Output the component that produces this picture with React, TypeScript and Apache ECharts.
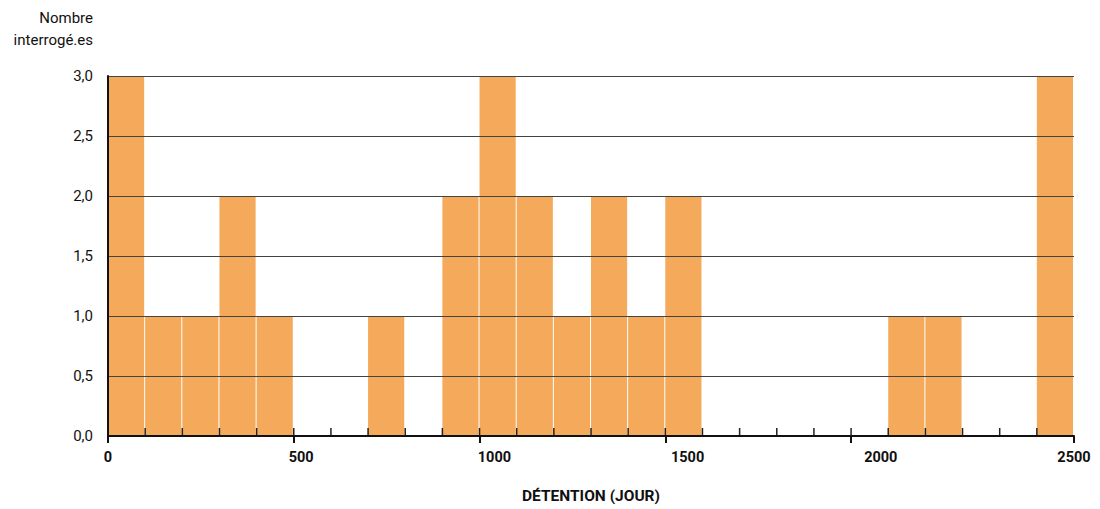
import React, { useEffect, useRef } from "react";
import * as echarts from "echarts";

const xMin = 0;
const xMax = 2600;
const binWidth = 100;
const counts = [3, 1, 1, 2, 1, 0, 0, 1, 0, 2, 3, 2, 1, 2, 1, 2, 0, 0, 0, 0, 0, 1, 1, 0, 0, 3];
const majorTicks = [0, 500, 1000, 1500, 2000, 2600];
const xLabelMax = 2500;
const xLabels = [0, 500, 1000, 1500, 2000, 2500];
const yTicks = [0.5, 1, 1.5, 2, 2.5, 3];
const yName = "Nombre\ninterrogé.es";
const xName = "DÉTENTION (JOUR)";

const BAR = "#F4A95B";
const FONT = "Roboto, 'Noto Sans', sans-serif";

export default function App() {
  const ref = useRef<HTMLDivElement>(null);
  useEffect(() => {
    if (!ref.current) return;
    const chart = echarts.init(ref.current, undefined, { renderer: "svg" });
    const bins = counts.map((c, i) => [xMin + i * binWidth, xMin + (i + 1) * binWidth, c]);
    const edges: number[][] = [];
    for (let i = 1; i < counts.length; i++) edges.push([xMin + i * binWidth, 0]);

    chart.setOption({
      animation: false,
      grid: { left: 108, right: 26, top: 76, bottom: 72 },
      xAxis: [
        {
          type: "value",
          min: xMin,
          max: xMax,
          interval: 500,
          z: 10,
          axisLine: { show: true, lineStyle: { color: "#111", width: 2 } },
          axisTick: { show: true, length: 7, customValues: majorTicks, lineStyle: { color: "#111", width: 2 } },
          axisLabel: { show: false },
          splitLine: { show: false },
        },
        {
          type: "value",
          position: "bottom",
          min: 0,
          max: xLabelMax,
          z: 10,
          name: xName,
          nameLocation: "middle",
          nameGap: 52,
          nameTextStyle: { fontFamily: FONT, fontSize: 15.5, fontWeight: "bold", color: "#111" },
          axisLine: { show: false },
          axisTick: { show: false },
          axisLabel: {
            customValues: xLabels,
            fontFamily: FONT,
            fontSize: 14.5,
            fontWeight: "bold",
            color: "#111",
            margin: 14,
            formatter: (v: number) => String(v),
          },
          splitLine: { show: false },
        },
      ],
      yAxis: {
        type: "value",
        min: 0,
        max: 3,
        interval: 0.5,
        z: 10,
        axisLine: { show: true, lineStyle: { color: "#111", width: 2 } },
        axisTick: { show: false },
        axisLabel: {
          fontFamily: FONT,
          fontSize: 15,
          color: "#111",
          margin: 15,
          formatter: (v: number) => v.toFixed(1).replace(".", ","),
        },
        splitLine: { show: false },
      },
      graphic: [
        {
          type: "text",
          x: 93,
          y: 7,
          style: {
            text: yName,
            fontFamily: FONT,
            fontSize: 15,
            fill: "#111",
            align: "right",
            lineHeight: 22,
          },
        },
      ],
      series: [
        {
          type: "custom",
          z: 2,
          xAxisIndex: 0,
          data: bins,
          encode: { x: [0, 1], y: 2 },
          renderItem: (params: any, api: any) => {
            const c = api.value(2);
            if (!c) return null;
            const p0 = api.coord([api.value(0), c]);
            const p1 = api.coord([api.value(1), 0]);
            return {
              type: "rect",
              shape: { x: p0[0], y: p0[1], width: p1[0] - p0[0] - 1, height: p1[1] - p0[1] },
              style: { fill: BAR },
            };
          },
        },
        {
          type: "custom",
          z: 5,
          silent: true,
          xAxisIndex: 0,
          data: edges,
          encode: { x: 0, y: 1 },
          renderItem: (params: any, api: any) => {
            const p = api.coord([api.value(0), 0]);
            return {
              type: "line",
              shape: { x1: p[0], y1: p[1], x2: p[0], y2: p[1] - 8 },
              style: { stroke: "#222", lineWidth: 1.5 },
            };
          },
          markLine: {
            silent: true,
            symbol: "none",
            label: { show: false },
            lineStyle: { color: "#444", width: 1, type: "solid" },
            data: yTicks.map((v) => ({ yAxis: v })),
          },
        },
      ],
    });
    return () => chart.dispose();
  }, []);
  return <div ref={ref} style={{ width: 1100, height: 509, position: "absolute", left: 0, top: 0 }} />;
}
